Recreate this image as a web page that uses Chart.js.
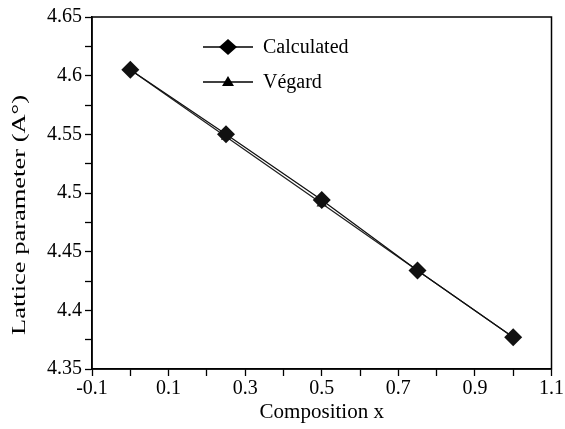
<!DOCTYPE html>
<html>
<head>
<meta charset="utf-8">
<script src="https://cdn.jsdelivr.net/npm/chart.js@4"></script>
<style>
  html, body { margin: 0; padding: 0; background: #fff; }
  #wrap { width: 565px; height: 429px; }
</style>
</head>
<body>
<div id="wrap"><canvas id="myChart" width="565" height="429"></canvas></div>
<script>
var composition = [0, 0.25, 0.5, 0.75, 1];
var calculated = [4.605, 4.550, 4.494, 4.434, 4.377];
var vegard = [4.605, 4.548, 4.491, 4.434, 4.377];
var seriesNames = ['Calculated', 'Végard'];
var yTitle = 'Lattice parameter (A°)';
var xTitle = 'Composition x';

var serif = '"Liberation Serif", "Times New Roman", serif';

function pts(ys) {
    return composition.map(function (x, i) { return { x: x, y: ys[i] }; });
}

// frame around the plot, legend inside the plot, stretched y title
var framePlugin = {
    id: 'frame',
    afterDraw: function (chart) {
        var c = chart.ctx, a = chart.chartArea;
        c.save();
        c.strokeStyle = '#000';
        c.lineWidth = 1.5;
        c.strokeRect(a.left, a.top, a.right - a.left, a.bottom - a.top);

        var lx = a.left + 111, ly = a.top + 30, gap = 35;
        c.font = '20px ' + serif;
        c.textBaseline = 'middle';
        c.fillStyle = '#000';
        c.lineWidth = 1.3;
        for (var i = 0; i < 2; i++) {
            var y = ly + i * gap;
            c.beginPath();
            c.moveTo(lx, y);
            c.lineTo(lx + 50, y);
            c.stroke();
            c.beginPath();
            if (i === 0) {
                c.moveTo(lx + 25, y - 8);
                c.lineTo(lx + 34, y);
                c.lineTo(lx + 25, y + 8);
                c.lineTo(lx + 16, y);
            } else {
                c.moveTo(lx + 25, y - 6);
                c.lineTo(lx + 31, y + 4);
                c.lineTo(lx + 19, y + 4);
            }
            c.closePath();
            c.fill();
            c.fillText(seriesNames[i], lx + 60, y + 1);
        }

        // y axis title
        c.font = '19px ' + serif;
        c.textAlign = 'center';
        var w = c.measureText(yTitle).width;
        c.translate(20, 215);
        c.rotate(-Math.PI / 2);
        c.scale(240 / w, 1);
        c.fillText(yTitle, 0, 0);
        c.restore();
    }
};

var ctx = document.getElementById('myChart').getContext('2d');
var myChart = new Chart(ctx, {
    type: 'line',
    data: {
        datasets: [{
            label: seriesNames[0],
            data: pts(calculated),
            borderColor: '#111',
            backgroundColor: '#111',
            borderWidth: 1.3,
            pointStyle: 'rectRot',
            pointRadius: 9,
            pointBorderWidth: 0
        }, {
            label: seriesNames[1],
            data: pts(vegard),
            borderColor: '#222',
            backgroundColor: '#222',
            borderWidth: 1.3,
            pointStyle: 'triangle',
            pointRadius: 6,
            pointBorderWidth: 0
        }]
    },
    options: {
        responsive: false,
        animation: false,
        layout: { padding: { top: 17, right: 12, left: 0, bottom: 0 } },
        plugins: {
            legend: { display: false },
            tooltip: { enabled: false }
        },
        scales: {
            x: {
                type: 'linear',
                min: -0.1,
                max: 1.1,
                ticks: {
                    stepSize: 0.1,
                    autoSkip: false,
                    maxRotation: 0,
                    color: '#000',
                    padding: 1,
                    font: { family: serif, size: 20 },
                    callback: function (v) {
                        var k = Math.round(v * 10);
                        return Math.abs(k) % 2 === 1 ? (k / 10).toString() : '';
                    }
                },
                grid: { drawOnChartArea: false, tickLength: 7, color: '#000', tickWidth: 1.3 },
                border: { color: '#000', width: 1.5 },
                title: {
                    display: true,
                    text: xTitle,
                    color: '#000',
                    font: { family: serif, size: 21 },
                    padding: { top: 0 }
                },
                afterFit: function (s) { s.height = 60; }
            },
            y: {
                min: 4.35,
                max: 4.65,
                ticks: {
                    stepSize: 0.025,
                    autoSkip: false,
                    color: '#000',
                    padding: 3,
                    font: { family: serif, size: 20 },
                    callback: function (v) {
                        var k = Math.round(v * 1000);
                        return k % 50 === 0 ? parseFloat((k / 1000).toFixed(3)).toString() : '';
                    }
                },
                grid: { drawOnChartArea: false, tickLength: 7, color: '#000', tickWidth: 1.3 },
                border: { color: '#000', width: 1.5 },
                afterFit: function (s) { s.width = 92; }
            }
        }
    },
    plugins: [framePlugin]
});
</script>
</body>
</html>
